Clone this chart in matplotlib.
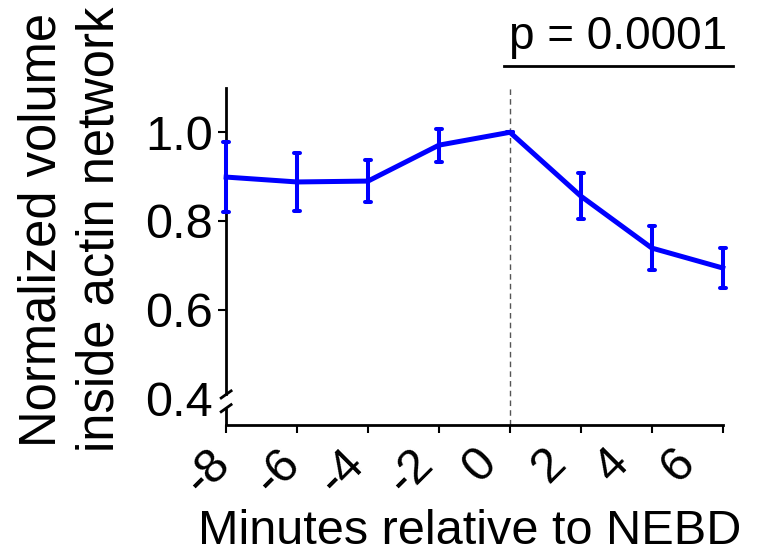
import numpy as np
import matplotlib
matplotlib.use("Agg")
import matplotlib.pyplot as plt
from matplotlib.markers import MarkerStyle
from matplotlib.transforms import ScaledTranslation

plt.rcParams["font.family"] = ["Liberation Sans", "DejaVu Sans"]

# Normalized volume inside the actin network around NEBD (mean +/- SEM)
minutes = [-8, -6, -4, -2, 0, 2, 4, 6]
tick_labels = ["-8", "-6", "-4", "-2", "0", "2", "4", "6"]
volume = [0.899, 0.888, 0.890, 0.971, 1.000, 0.856, 0.739, 0.694]
sem = [0.078, 0.066, 0.047, 0.037, 0.0, 0.052, 0.050, 0.045]
p_text = "p = 0.0001"

BLUE = "#0000ff"
FS = 35

fig = plt.figure(figsize=(7.64, 5.6), dpi=100)
ax = fig.add_axes([0.296, 0.241, 0.65, 0.602])

line, caps, bars = ax.errorbar(minutes, volume, yerr=sem, color=BLUE, lw=3.6,
                               elinewidth=2.9, capsize=2.3, capthick=2.9,
                               zorder=3, clip_on=False)
line.set_solid_joinstyle("round")
for c in caps:
    c.set_marker(MarkerStyle("_", capstyle="round"))
    c.set_clip_on(False)
for b in bars:
    b.set_clip_on(False)

# NEBD marker
ax.axvline(0, color="#555555", lw=1, ls=(0, (4, 3)), zorder=1)

ax.set_xlim(-8, 6)
ax.set_ylim(0.34, 1.1)
ax.set_xticks(minutes)
ax.set_xticklabels(tick_labels, rotation=45, ha="right", va="top")
ax.set_yticks([0.4, 0.6, 0.8, 1.0])
ax.set_yticklabels(["0.4", "0.6", "0.8", "1.0"])
ax.tick_params(labelsize=FS, width=1.5, length=6, direction="out")
ax.tick_params(axis="x", pad=5)
ax.yaxis.get_major_ticks()[0].tick1line.set_visible(False)

# the rotated minute labels drift slightly left along the axis
shift_px = [13, 12, 5, 4, -5, -6, -14, -19]
for lab, s in zip(ax.get_xticklabels(), shift_px):
    lab.set_transform(lab.get_transform()
                      + ScaledTranslation(s / 100, 0, fig.dpi_scale_trans))

for side in ["top", "right"]:
    ax.spines[side].set_visible(False)
ax.spines["bottom"].set_linewidth(2)
ax.spines["left"].set_linewidth(2)

# broken y axis just above the origin
brk_hi, brk_lo = 0.409, 0.378
ax.spines["left"].set_bounds(brk_hi, 1.1)
ax.plot([-8, -8], [0.34, brk_lo], color="black", lw=2, clip_on=False,
        solid_capstyle="butt")
dx, dy = 0.14, 0.008
for yb in (brk_hi, brk_lo):
    ax.plot([-8 - dx, -8 + dx], [yb - dy, yb + dy], color="black", lw=2,
            clip_on=False)

ax.set_xlabel("Minutes relative to NEBD", fontsize=FS)
ax.set_ylabel("Normalized volume\ninside actin network", fontsize=36.5,
              linespacing=1.22)
ax.xaxis.set_label_coords(0.49, -0.25)
ax.yaxis.set_label_coords(-0.205, 0.58)

# significance bar over the post-NEBD points
ax.plot([-0.17, 6.28], [1.15, 1.15], color="black", lw=2, clip_on=False)
ax.text(3.05, 1.165, p_text, ha="center", va="bottom", fontsize=33)

fig.savefig("out.png", dpi=100)
